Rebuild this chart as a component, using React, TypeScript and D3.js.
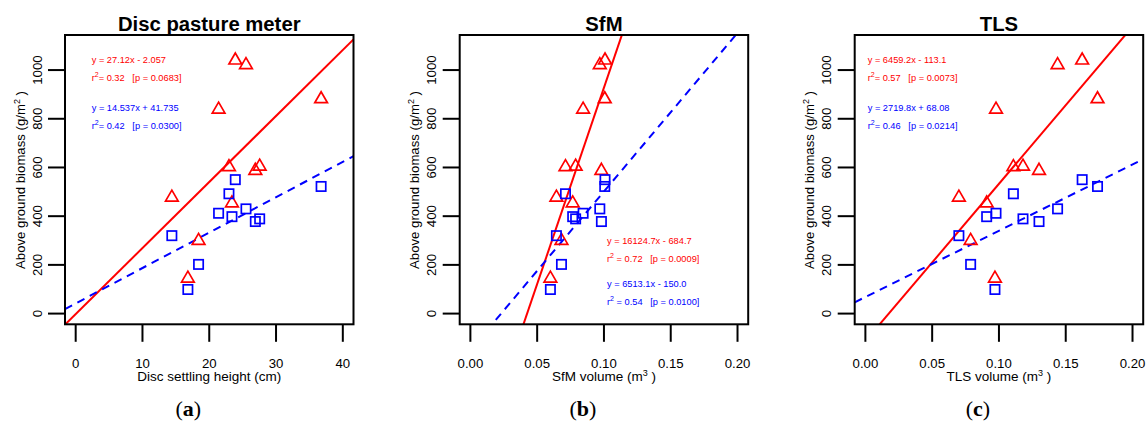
import React from "react";
import * as d3 from "d3";

// ---- data (11 plots) ----
const redBiomass = [1040, 1021, 838, 881, 602, 587, 604, 477, 453, 299, 144];
const blueBiomass = [550, 430, 412, 522, 492, 378, 389, 320, 398, 202, 99];
const discHeight = [23.9, 25.5, 21.4, 36.75, 22.95, 26.9, 27.55, 14.4, 23.4, 18.4, 16.8];
const sfmVolume = [0.1008, 0.0969, 0.0844, 0.1006, 0.0712, 0.0981, 0.0788, 0.0644, 0.0766, 0.0682, 0.0599];
const tlsVolume = [0.1623, 0.1439, 0.0978, 0.1738, 0.1108, 0.13, 0.118, 0.07, 0.0908, 0.0788, 0.097];

const panelTitles = ["Disc pasture meter", "SfM", "TLS"];
const panelLetters = ["a", "b", "c"];
const xTitles = ["Disc settling height (cm)", "SfM volume (m", "TLS volume (m"];
const xTicksDisc = [0, 10, 20, 30, 40];
const xTicksVol = [0, 0.05, 0.1, 0.15, 0.2];
const yTicks = [0, 200, 400, 600, 800, 1000];

const redSlope = [27.12, 16124.7, 6459.2];
const redIntercept = [-2.057, -684.7, -113.1];
const blueSlope = [14.537, 6513.1, 2719.8];
const blueIntercept = [41.735, -150.0, 68.08];
const redEqText = ["y = 27.12x - 2.057", "y = 16124.7x - 684.7", "y = 6459.2x - 113.1"];
const redR2Text = ["= 0.32   [p = 0.0683]", " = 0.72   [p = 0.0009]", "= 0.57   [p = 0.0073]"];
const blueEqText = ["y = 14.537x + 41.735", "y = 6513.1x - 150.0", "y = 2719.8x + 68.08"];
const blueR2Text = ["= 0.42   [p = 0.0300]", " = 0.54   [p = 0.0100]", "= 0.46   [p = 0.0214]"];

const RED = "#ff0000";
const BLUE = "#0000ff";
const SANS = "'Liberation Sans', Arial, sans-serif";

const boxLefts = [65, 459.7, 854.7];
const BOX_W = 288.5;
const BOX_TOP = 35;
const BOX_BOT = 324.3;
const annX = [91.7, 607, 867.7];
const annY = [
  [59.3, 77.3, 107.3, 125.7],
  [241, 258.5, 284, 301.5],
  [59.3, 77.3, 107.3, 125.7],
];

function Panel({ i }: { i: number }) {
  const left = boxLefts[i];
  const right = left + BOX_W;
  const xs = i === 0 ? discHeight : i === 1 ? sfmVolume : tlsVolume;
  const ticks = i === 0 ? xTicksDisc : xTicksVol;
  const xDom = i === 0 ? [-1.6, 41.6] : [-0.008, 0.208];
  const x = d3.scaleLinear().domain(xDom).range([left, right]);
  const y = d3.scaleLinear().domain([-44, 1144]).range([BOX_BOT, BOX_TOP]);
  const fmt = i === 0 ? d3.format("d") : d3.format(".2f");
  const cx = (left + right) / 2;
  const clipId = `clip${i}`;
  const fitPath = (m: number, b: number) =>
    d3
      .line<number>()
      .x((d) => x(d))
      .y((d) => y(m * d + b))(xDom as number[]) as string;

  const triR = 7.33;
  const triPath = (px: number, py: number) =>
    `M${px},${py - triR}L${px + triR * 0.866},${py + triR / 2}L${px - triR * 0.866},${py + triR / 2}Z`;
  const sq = 9.3;

  const ax = annX[i];
  const ay = annY[i];
  const annFont = 9.25;

  return (
    <g>
      <defs>
        <clipPath id={clipId}>
          <rect x={left} y={BOX_TOP} width={BOX_W} height={BOX_BOT - BOX_TOP} />
        </clipPath>
      </defs>
      {/* title */}
      <text x={cx} y={31} textAnchor="middle" fontFamily={SANS} fontWeight="bold" fontSize={20.3} fill="#000">
        {panelTitles[i]}
      </text>
      {/* fit lines */}
      <g clipPath={`url(#${clipId})`}>
        <path d={fitPath(redSlope[i], redIntercept[i])} stroke={RED} strokeWidth={2} fill="none" />
        <path
          d={fitPath(blueSlope[i], blueIntercept[i])}
          stroke={BLUE}
          strokeWidth={2}
          fill="none"
          strokeDasharray="8,6"
        />
      </g>
      {/* points */}
      {xs.map((v, k) => (
        <path key={"t" + k} d={triPath(x(v), y(redBiomass[k]))} stroke={RED} strokeWidth={1.7} fill="none" />
      ))}
      {xs.map((v, k) => (
        <rect
          key={"s" + k}
          x={x(v) - sq / 2}
          y={y(blueBiomass[k]) - sq / 2}
          width={sq}
          height={sq}
          stroke={BLUE}
          strokeWidth={1.7}
          fill="none"
        />
      ))}
      {/* box */}
      <rect x={left} y={BOX_TOP} width={BOX_W} height={BOX_BOT - BOX_TOP} fill="none" stroke="#000" strokeWidth={2} />
      {/* x ticks */}
      {ticks.map((t) => (
        <g key={"x" + t}>
          <line x1={x(t)} x2={x(t)} y1={BOX_BOT} y2={BOX_BOT + 17.5} stroke="#000" strokeWidth={2} />
          <text x={x(t)} y={367.5} textAnchor="middle" fontFamily={SANS} fontSize={13.2} fill="#000">
            {fmt(t)}
          </text>
        </g>
      ))}
      {/* y ticks */}
      {yTicks.map((t) => (
        <g key={"y" + t}>
          <line x1={left - 17} x2={left} y1={y(t)} y2={y(t)} stroke="#000" strokeWidth={2} />
          <text
            transform={`translate(${left - 23.5},${y(t)}) rotate(-90)`}
            textAnchor="middle"
            fontFamily={SANS}
            fontSize={13.2}
            fill="#000"
          >
            {t}
          </text>
        </g>
      ))}
      {/* x title */}
      <text x={cx} y={381} textAnchor="middle" fontFamily={SANS} fontSize={13.5} fill="#000" xmlSpace="preserve">
        {i === 0 ? (
          xTitles[i]
        ) : (
          <>
            {xTitles[i]}
            <tspan dy={-5} fontSize={9}>
              3
            </tspan>
            <tspan dy={5}>{" )"}</tspan>
          </>
        )}
      </text>
      {/* y title */}
      <text
        transform={`translate(${left - 40.5},${180}) rotate(-90)`}
        textAnchor="middle"
        fontFamily={SANS}
        fontSize={13.2}
        fill="#000"
        xmlSpace="preserve"
      >
        {"Above ground biomass (g/m"}
        <tspan dy={-5} fontSize={9}>
          2
        </tspan>
        <tspan dy={5}>{" )"}</tspan>
      </text>
      {/* annotations */}
      <g fontFamily={SANS} fontSize={annFont}>
        <text x={ax} y={ay[0] + 3.4} fill={RED} xmlSpace="preserve">
          {redEqText[i]}
        </text>
        <text x={ax} y={ay[1] + 3.4} fill={RED} xmlSpace="preserve">
          {"r"}
          <tspan dy={-4.2} fontSize={7}>2</tspan>
          <tspan dy={4.2}>{redR2Text[i]}</tspan>
        </text>
        <text x={ax} y={ay[2] + 3.4} fill={BLUE} xmlSpace="preserve">
          {blueEqText[i]}
        </text>
        <text x={ax} y={ay[3] + 3.4} fill={BLUE} xmlSpace="preserve">
          {"r"}
          <tspan dy={-4.2} fontSize={7}>2</tspan>
          <tspan dy={4.2}>{blueR2Text[i]}</tspan>
        </text>
      </g>
      {/* panel letter */}
      <text x={cx - 21} y={416} textAnchor="middle" fontFamily="'Liberation Serif', 'Times New Roman', serif" fontSize={22} fill="#000">
        (<tspan fontWeight="bold">{panelLetters[i]}</tspan>)
      </text>
    </g>
  );
}

export default function App() {
  return (
    <svg
      width={1148}
      height={423}
      viewBox="0 0 1148 423"
      style={{ position: "absolute", left: 0, top: 0, background: "#fff" }}
    >
      <rect x={0} y={0} width={1148} height={423} fill="#fff" />
      {[0, 1, 2].map((i) => (
        <Panel key={i} i={i} />
      ))}
    </svg>
  );
}
